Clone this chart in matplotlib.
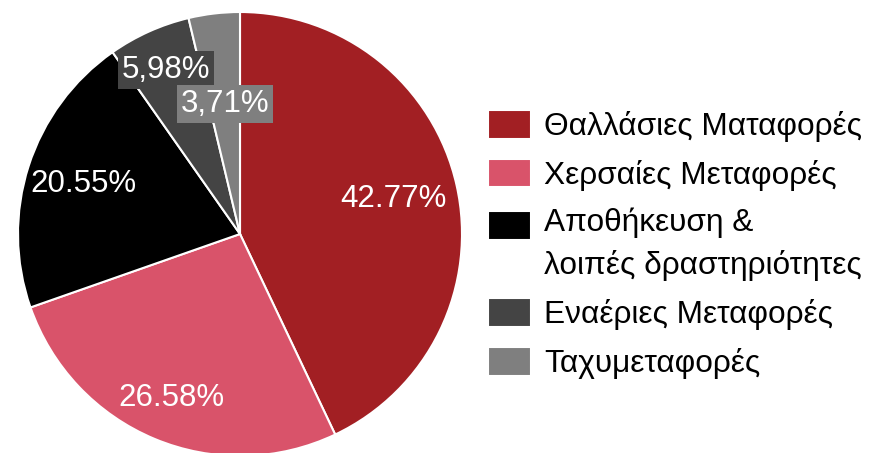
import numpy as np
import matplotlib.pyplot as plt

plt.rcParams['font.family'] = ['Liberation Sans', 'DejaVu Sans']

categories = ['Θαλλάσιες Ματαφορές', 'Χερσαίες Μεταφορές',
              'Αποθήκευση &\nλοιπές δραστηριότητες', 'Εναέριες Μεταφορές',
              'Ταχυμεταφορές']
shares = [42.77, 26.58, 20.55, 5.98, 3.71]
pct_labels = ['42.77%', '26.58%', '20.55%', '5,98%', '3,71%']
colors = ['#A21F23', '#D9536A', '#000000', '#444444', '#7F7F7F']
label_dist = [0.71, 0.80, 0.74, 0.81, 0.59]
boxed = [False, False, False, True, True]

W, H = 872, 453
fig = plt.figure(figsize=(W / 100, H / 100), dpi=100)
cx, cy, r = 240, H - 234, 222
ax = fig.add_axes([(cx - r) / W, (cy - r) / H, 2 * r / W, 2 * r / H])

wedges, _ = ax.pie(shares, colors=colors, startangle=90, counterclock=False,
                   radius=1, wedgeprops=dict(edgecolor='white', linewidth=1.5))
ax.set_xlim(-1, 1)
ax.set_ylim(-1, 1)
ax.set_aspect('equal')
ax.axis('off')

for w, txt, d, b, c in zip(wedges, pct_labels, label_dist, boxed, colors):
    ang = np.deg2rad((w.theta1 + w.theta2) / 2)
    kw = {}
    if b:
        kw['bbox'] = dict(boxstyle='square,pad=0.12', facecolor=c, edgecolor='none')
    ax.text(d * np.cos(ang), d * np.sin(ang), txt, ha='center', va='center',
            color='white', fontsize=22.5, **kw)

fs = 22.8
px = fs * 100 / 72
leg = fig.legend(wedges, categories, loc='upper left',
                 bbox_to_anchor=(488 / W, 1 - 110 / H), frameon=False,
                 fontsize=fs, handlelength=43 / px,
                 handleheight=32 / px, handletextpad=0.42,
                 labelspacing=0.53, borderpad=0, borderaxespad=0)
for t in leg.get_texts():
    t.set_linespacing(1.5)
# put the square of the two-line entry next to its first line
h = leg.legend_handles[2]
h.set_y(h.get_y() + 14)

fig.savefig('out.png', dpi=100)
